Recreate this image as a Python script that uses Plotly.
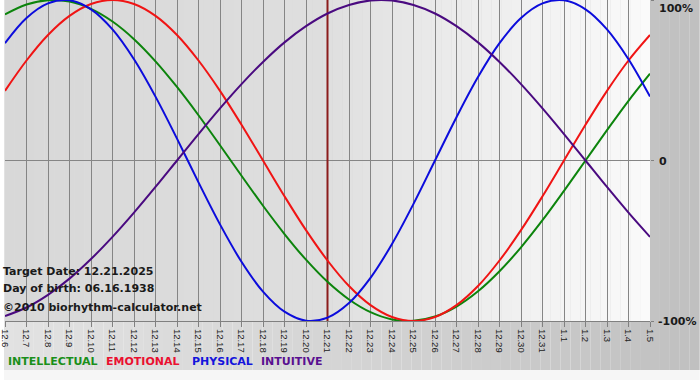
import plotly.graph_objects as go

# ---- data ----
dates = ["12.6", "12.7", "12.8", "12.9", "12.10", "12.11", "12.12", "12.13", "12.14", "12.15",
         "12.16", "12.17", "12.18", "12.19", "12.20", "12.21", "12.22", "12.23", "12.24", "12.25",
         "12.26", "12.27", "12.28", "12.29", "12.30", "12.31", "1.1", "1.2", "1.3", "1.4", "1.5"]
physical = [0.731, 0.888, 0.979, 0.998, 0.942, 0.817, 0.631, 0.398, 0.136, -0.136, -0.398,
            -0.631, -0.817, -0.942, -0.998, -0.979, -0.888, -0.731, -0.520, -0.270, 0.000,
            0.270, 0.520, 0.731, 0.888, 0.979, 0.998, 0.942, 0.817, 0.631, 0.398]
emotional = [0.434, 0.623, 0.782, 0.901, 0.975, 1.000, 0.975, 0.901, 0.782, 0.623, 0.434,
             0.223, 0.000, -0.223, -0.434, -0.623, -0.782, -0.901, -0.975, -1.000, -0.975,
             -0.901, -0.782, -0.623, -0.434, -0.223, 0.000, 0.223, 0.434, 0.623, 0.782]
intellectual = [0.910, 0.972, 0.999, 0.990, 0.945, 0.866, 0.756, 0.618, 0.458, 0.282, 0.095,
                -0.095, -0.282, -0.458, -0.618, -0.756, -0.866, -0.945, -0.990, -0.999, -0.972,
                -0.910, -0.815, -0.690, -0.541, -0.372, -0.189, 0.000, 0.189, 0.372, 0.541]
intuitive = [-0.969, -0.916, -0.837, -0.736, -0.614, -0.476, -0.325, -0.165, 0.000, 0.165, 0.325,
             0.476, 0.614, 0.736, 0.837, 0.916, 0.969, 0.997, 0.997, 0.969, 0.916, 0.837,
             0.736, 0.614, 0.476, 0.325, 0.165, 0.000, -0.165, -0.325, -0.476]
target_date = "12.21"
y_ticks = [-1, 0, 1]
y_labels = ["-100%", "0", "100%"]
info_lines = ["Target Date: 12.21.2025", "Day of birth: 06.16.1938", "\u00a92010 biorhythm-calculator.net"]
series_names = ["INTELLECTUAL", "EMOTIONAL", "PHYSICAL", "INTUITIVE"]

# ---- styling ----
W, H = 700, 380
ML, MR, MT, MB = 1, 50, 0, 59
PW, PH = W - ML - MR, H - MT - MB
col_int, col_emo, col_phy, col_itu = "#0c840c", "#f01414", "#0c0cdc", "#4a0a80"
leg_cols = ["#1a8f1a", "#ea1030", "#1414dc", "#5a1090"]

def px_x(px):
    return (px - ML) / PW

def px_y(py):
    return 1 - (py - MT) / PH

def interp(x, pts):
    for (x0, c0), (x1, c1) in zip(pts[:-1], pts[1:]):
        if x0 <= x <= x1:
            return c0 + (c1 - c0) * (x - x0) / (x1 - x0)
    return pts[-1][1]

shapes = []
# outer frame gradient
step = 10
for i in range(0, W, step):
    g = int(round(interp(i + step / 2, [(0, 226), (350, 212), (700, 192)])))
    shapes.append(dict(type="rect", xref="paper", yref="paper", layer="below",
                       x0=px_x(i), x1=px_x(i + step), y0=px_y(370), y1=px_y(0),
                       fillcolor=f"rgb({g},{g},{g})", line=dict(width=0)))
# bottom light band
shapes.append(dict(type="rect", xref="paper", yref="paper", layer="below",
                   x0=px_x(0), x1=px_x(W), y0=px_y(H), y1=px_y(370),
                   fillcolor="#f6f6f6", line=dict(width=0)))
# plot area gradient
n = 65
for i in range(n):
    a = i / n
    b = (i + 1) / n
    xm = (a + b) / 2 * PW
    g = int(round(interp(xm, [(0, 216), (310, 222), (470, 237), (650, 250)])))
    shapes.append(dict(type="rect", xref="paper", yref="paper", layer="below",
                       x0=a, x1=b, y0=0, y1=1,
                       fillcolor=f"rgb({g},{g},{g})", line=dict(width=0)))

xi = list(range(len(dates)))
ti = dates.index(target_date)

fig = go.Figure()
fig.add_trace(go.Scatter(x=[ti, ti], y=[y_ticks[0], y_ticks[-1]], mode="lines",
                         line=dict(color="#8b1c1c", width=2), hoverinfo="skip"))
for vals, col in [(intellectual, col_int), (emotional, col_emo), (physical, col_phy), (intuitive, col_itu)]:
    fig.add_trace(go.Scatter(x=xi, y=vals, mode="lines",
                             line=dict(color=col, width=2, shape="spline", smoothing=1.0),
                             hoverinfo="skip"))

annotations = []
info_y = [271, 288, 307]
for txt, yy in zip(info_lines, info_y):
    annotations.append(dict(text=txt, xref="paper", yref="paper", x=px_x(-3), y=px_y(yy),
                            xanchor="left", yanchor="middle", showarrow=False,
                            font=dict(family="DejaVu Sans", size=11, color="#1a1a1a", weight="bold")))
leg_x = [2, 101, 187, 257]
for name, xx, c in zip(series_names, leg_x, leg_cols):
    annotations.append(dict(text=name, xref="paper", yref="paper", x=px_x(xx), y=px_y(361),
                            xanchor="left", yanchor="middle", showarrow=False,
                            font=dict(family="DejaVu Sans", size=11, color=c, weight="bold")))
ylab_pos = {"-100%": (656, 322), "0": (657, 162), "100%": (657, 8)}
for lab in y_labels:
    xx, yy = ylab_pos[lab]
    annotations.append(dict(text=lab, xref="paper", yref="paper", x=px_x(xx), y=px_y(yy),
                            xanchor="left", yanchor="middle", showarrow=False,
                            font=dict(family="DejaVu Sans", size=11, color="#1a1a1a", weight="bold")))

fig.update_layout(
    width=W, height=H,
    margin=dict(l=ML, r=MR, t=MT, b=MB),
    paper_bgcolor="#ffffff", plot_bgcolor="rgba(0,0,0,0)",
    showlegend=False, hovermode=False,
    shapes=shapes, annotations=annotations,
    xaxis=dict(range=[0, len(dates) - 1], tickmode="array", tickvals=xi, ticktext=dates,
               tickangle=90, ticks="outside", ticklen=5, tickcolor="#808080",
               ticklabeloverflow="allow",
               showgrid=True, gridcolor="#858585", gridwidth=1,
               showline=True, linecolor="#808080", linewidth=1, zeroline=False,
               tickfont=dict(family="Liberation Sans", size=9.5, color="#222222"), fixedrange=True),
    yaxis=dict(range=[-1, 1], side="right", tickmode="array", tickvals=y_ticks,
               ticktext=["", "", ""], ticks="outside", ticklen=3, tickcolor="#808080",
               showgrid=True, gridcolor="#858585", gridwidth=1, zeroline=False,
               showline=False, fixedrange=True),
)

fig.write_html("out.html", config={"displayModeBar": False, "staticPlot": True},
               post_script="document.body.style.margin='0';document.body.style.padding='0';")
